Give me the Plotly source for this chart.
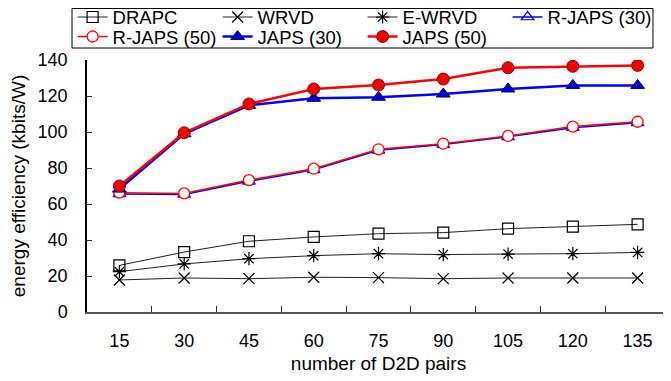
import plotly.graph_objects as go

pairs = ["15", "30", "45", "60", "75", "90", "105", "120", "135"]
drapc = [25.9, 33.3, 39.3, 41.7, 43.5, 44.1, 46.3, 47.4, 48.7]
wrvd = [17.8, 18.9, 18.5, 19.3, 19.1, 18.5, 18.9, 18.9, 18.9]
e_wrvd = [22.4, 26.7, 29.6, 31.3, 32.4, 31.9, 32.2, 32.4, 33.1]
r_japs30 = [65.6, 65.3, 72.6, 79.0, 89.8, 93.0, 97.3, 102.4, 105.1]
r_japs50 = [66.3, 65.9, 73.3, 79.6, 90.4, 93.5, 97.8, 103.0, 105.7]
japs30 = [68.3, 99.0, 114.8, 118.7, 119.3, 121.1, 123.9, 125.9, 125.9]
japs50 = [70.0, 99.6, 115.6, 123.9, 126.1, 129.4, 135.7, 136.5, 137.0]

FONT = "Liberation Sans, Arial, sans-serif"
FS = 18

series = [
    ("DRAPC", drapc, "legend", dict(color="#222222", width=1), dict(symbol="square-open", size=11, color="#000000", line=dict(width=1.2))),
    ("WRVD", wrvd, "legend", dict(color="#222222", width=1), dict(symbol="x-thin-open", size=11, color="#000000", line=dict(width=1.2, color="#000000"))),
    ("E-WRVD", e_wrvd, "legend", dict(color="#222222", width=1), dict(symbol="asterisk-open", size=11, color="#000000", line=dict(width=1.2, color="#000000"))),
    ("R-JAPS (30)", r_japs30, "legend", dict(color="#0000FF", width=1.5), dict(symbol="triangle-up-open", size=11, color="#0000FF", line=dict(width=1.2))),
    ("R-JAPS (50)", r_japs50, "legend2", dict(color="#FF0000", width=1.5), dict(symbol="circle", size=11, color="#FFFFFF", line=dict(width=1.3, color="#FF0000"))),
    ("JAPS (30)", japs30, "legend2", dict(color="#0000FF", width=2.5), dict(symbol="triangle-up", size=12, color="#0000CC", line=dict(width=1, color="#000088"))),
    ("JAPS (50)", japs50, "legend2", dict(color="#FF0000", width=2.5), dict(symbol="circle", size=12, color="#EE0000", line=dict(width=1, color="#990000"))),
]

fig = go.Figure()
for name, vals, lg, ln, mk in series:
    fig.add_trace(go.Scatter(x=pairs, y=vals, name=name, mode="lines+markers",
                             legend=lg, line=ln, marker=mk))

legend_common = dict(
    orientation="h", xanchor="left", yanchor="middle",
    entrywidth=100, borderwidth=0, bgcolor="rgba(0,0,0,0)",
    font=dict(family=FONT, size=18.5), tracegroupgap=0, itemwidth=30,
)

fig.update_layout(
    width=671, height=381,
    margin=dict(l=79, r=9, t=52, b=77, autoexpand=False),
    paper_bgcolor="white", plot_bgcolor="white",
    font=dict(family=FONT, size=FS, color="#000000"),
    showlegend=True,
    legend=dict(x=-0.0247, y=1.1687, **legend_common),
    legend2=dict(x=-0.0247, y=1.0913, **legend_common),
    shapes=[dict(type="rect", xref="paper", yref="paper",
                 x0=-0.0257, x1=0.9708, y0=1.0476, y1=1.2044,
                 line=dict(color="#000000", width=1), fillcolor="white", layer="above")],
    xaxis=dict(
        type="category", range=[-0.5, 8.5],
        showline=True, linecolor="#555555", linewidth=1.5,
        ticks="inside", tickson="boundaries", ticklen=6, tickcolor="#333333",
        showgrid=False, zeroline=False, automargin=False,
        ticklabelstandoff=12,
        title=dict(text="number of D2D pairs", font=dict(size=19), standoff=6),
        tickfont=dict(size=FS),
    ),
    yaxis=dict(
        range=[0, 140], dtick=20,
        showline=True, linecolor="#000000", linewidth=1.5,
        ticks="inside", ticklen=5, tickcolor="#333333",
        showgrid=False, zeroline=False, automargin=False,
        ticklabelstandoff=14,
        title=dict(text="energy efficiency (kbits/W)", font=dict(size=19), standoff=8),
        tickfont=dict(size=FS),
    ),
)

fig.write_html("out.html")
